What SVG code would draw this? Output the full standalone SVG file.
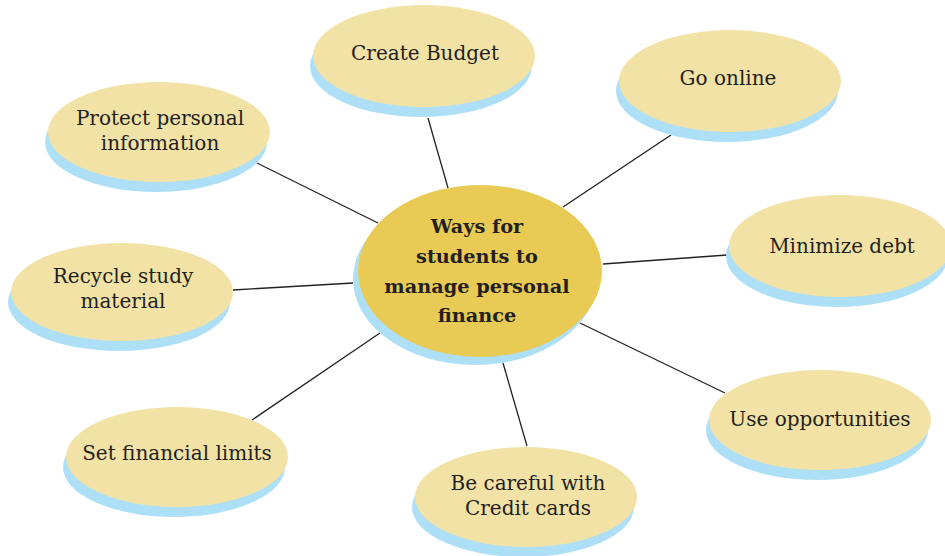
<svg xmlns="http://www.w3.org/2000/svg" width="945" height="556" viewBox="0 0 945 556">
<style>
.sh{fill:#ADE0F7}
.nf{fill:#F2E2A6}
.cf{fill:#E8CA55}
.t{font-family:"DejaVu Serif","Liberation Serif",serif;font-size:20px;fill:#231F20;text-anchor:middle}
.tb{font-family:"DejaVu Serif","Liberation Serif",serif;font-size:19.3px;font-weight:bold;fill:#231F20;text-anchor:middle}
.c line{stroke:#222;stroke-width:1.3}
</style>
<rect width="945" height="556" fill="#fff"/>
<g class="c" id="connectors">
<line x1="448" y1="188" x2="428" y2="118"/>
<line x1="563" y1="207" x2="671" y2="135"/>
<line x1="378" y1="223" x2="257" y2="163"/>
<line x1="603" y1="264" x2="727" y2="255"/>
<line x1="353" y1="283" x2="233" y2="290"/>
<line x1="380" y1="333" x2="252" y2="420"/>
<line x1="503" y1="363" x2="527" y2="446"/>
<line x1="580" y1="323" x2="725" y2="393"/>
</g>
<g id="center">
<ellipse class="sh" cx="475" cy="279" rx="122" ry="86"/>
<ellipse class="cf" cx="480" cy="271" rx="122" ry="86"/>
<text class="tb" x="477" y="233">Ways for</text>
<text class="tb" x="477" y="263">students to</text>
<text class="tb" x="477" y="293">manage personal</text>
<text class="tb" x="477" y="322">finance</text>
</g>
<g id="create-budget">
<ellipse class="sh" cx="421" cy="66" rx="111" ry="51"/>
<ellipse class="nf" cx="424" cy="56" rx="111" ry="51"/>
<text class="t" x="425" y="60">Create Budget</text>
</g>
<g id="go-online">
<ellipse class="sh" cx="727" cy="91" rx="111" ry="51"/>
<ellipse class="nf" cx="730" cy="81" rx="111" ry="51"/>
<text class="t" x="728" y="85">Go online</text>
</g>
<g id="protect">
<ellipse class="sh" cx="156" cy="142" rx="111" ry="50"/>
<ellipse class="nf" cx="159" cy="132" rx="111" ry="50"/>
<text class="t" x="160" y="125">Protect personal</text>
<text class="t" x="160" y="150">information</text>
</g>
<g id="minimize-debt">
<ellipse class="sh" cx="837" cy="256" rx="111" ry="51"/>
<ellipse class="nf" cx="840" cy="246" rx="111" ry="51"/>
<text class="t" x="842" y="253">Minimize debt</text>
</g>
<g id="recycle">
<ellipse class="sh" cx="119" cy="302" rx="111" ry="49"/>
<ellipse class="nf" cx="122" cy="292" rx="111" ry="49"/>
<text class="t" x="123" y="283">Recycle study</text>
<text class="t" x="123" y="308">material</text>
</g>
<g id="set-limits">
<ellipse class="sh" cx="174" cy="467" rx="111" ry="50"/>
<ellipse class="nf" cx="177" cy="457" rx="111" ry="50"/>
<text class="t" x="177" y="460">Set financial limits</text>
</g>
<g id="credit-cards">
<ellipse class="sh" cx="523" cy="507" rx="111" ry="50"/>
<ellipse class="nf" cx="526" cy="497" rx="111" ry="50"/>
<text class="t" x="528" y="490">Be careful with</text>
<text class="t" x="528" y="515">Credit cards</text>
</g>
<g id="opportunities">
<ellipse class="sh" cx="817" cy="430" rx="111" ry="50"/>
<ellipse class="nf" cx="820" cy="420" rx="111" ry="50"/>
<text class="t" x="820" y="426">Use opportunities</text>
</g>
</svg>
